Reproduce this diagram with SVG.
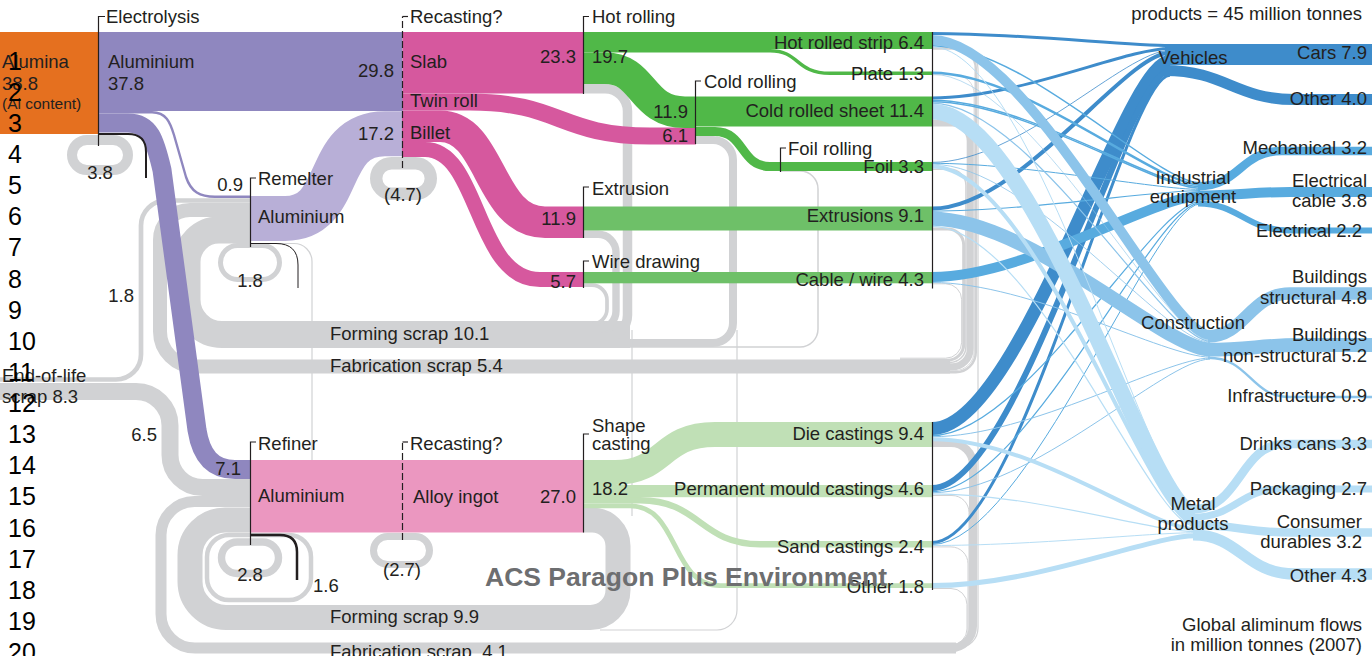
<svg xmlns="http://www.w3.org/2000/svg" width="1372" height="656" viewBox="0 0 1372 656">
<style>
.t{font-family:"Liberation Sans",Arial,sans-serif;font-size:18.5px;fill:#231f20}
.e{text-anchor:end}.m{text-anchor:middle}
.ln{font-family:"Liberation Sans",Arial,sans-serif;font-size:25px;fill:#000}
.g{fill:none;stroke:#d1d2d4}
.gl{fill:none;stroke:#d1d2d4;stroke-width:1.2}
.s{fill:none}
.V{fill:none;stroke:#3e8ccb}.I{fill:none;stroke:#58abdf}.C{fill:none;stroke:#8cc4ea}.M{fill:none;stroke:#b7def5}
.p{fill:none;stroke:#231f20;stroke-width:1.2}
.d{stroke-dasharray:7 3}
.blk{fill:none;stroke:#231f20}
</style>
<rect width="1372" height="656" fill="#fff"/>

<g id="connectors">
<g id="scrap-flows">
<path class="g" stroke-width="27" d="M630 334.5 H222 A35 35 0 0 1 187 299.5 V262 A32 32 0 0 1 219 230 H251"/>
<path class="g" stroke-width="3.7" d="M583 285.2 H592 A15 15 0 0 1 607 300.2 V309 A15 15 0 0 1 592 324 H560"/>
<path class="g" stroke-width="7.4" d="M583 234.3 H598 A18 18 0 0 1 616 252.3 V311 A18 18 0 0 1 598 329 H560"/>
<path class="g" stroke-width="9.5" d="M583 88.75 H605 A22.5 22.5 0 0 1 627.5 111.25 V315 A22.5 22.5 0 0 1 605 337.5 H560"/>
<path class="g" stroke-width="8" d="M695.5 140 H713 A20 20 0 0 1 733 160 V323 A20 20 0 0 1 713 343 H560"/>
<path class="g" stroke-width="1.5" d="M780 171 H800 A18 18 0 0 1 818 189 V329 A18 18 0 0 1 800 347 H560"/>
<path class="gl" d="M632 330 V516"/>
<path class="gl" d="M737 330 V610 A20 20 0 0 1 717 630 H600"/>
<path class="g" stroke-width="14" d="M950 366.5 H195 A35 35 0 0 1 160 331.5 V240 A30 30 0 0 1 190 210 H251"/>
<path class="g" stroke-width="2.5" d="M932 48.25 H955.75 A20 20 0 0 1 975.75 68.25 V352.25 A20 20 0 0 1 955.75 372.25 H900"/>
<path class="g" stroke-width="0.8" d="M932 74.8 H955 A19.1 19.1 0 0 1 974.1 93.9 V351.5 A19.1 19.1 0 0 1 955 370.6 H900"/>
<path class="g" stroke-width="7" d="M932 123 H952.2 A18 18 0 0 1 970.2 141 V348.7 A18 18 0 0 1 952.2 366.7 H900"/>
<path class="g" stroke-width="1.5" d="M932 169.35 H949.95 A16 16 0 0 1 965.95 185.35 V346.45 A16 16 0 0 1 949.95 362.45 H900"/>
<path class="g" stroke-width="3" d="M932 228.9 H947.7 A16 16 0 0 1 963.7 244.9 V344.2 A16 16 0 0 1 947.7 360.2 H900"/>
<path class="g" stroke-width="1" d="M932 283.8 H945.7 A16 16 0 0 1 961.7 299.8 V342.2 A16 16 0 0 1 945.7 358.2 H900"/>
<path class="gl" d="M932 49 H958 A20 20 0 0 1 978 69 V628 A20 20 0 0 1 958 648 H900"/>
<path class="g" stroke-width="11" d="M956 648 H195 A34 34 0 0 1 161 614 V535 A33.5 33.5 0 0 1 194.5 501.5 H251"/>
<path class="g" stroke-width="8" d="M932 443 H951 A22 22 0 0 1 973 465 V626 A22 22 0 0 1 951 648 H900"/>
<path class="g" stroke-width="1" d="M932 495.5 H952 A17 17 0 0 1 969 512.5 V630 A17 17 0 0 1 952 647 H900"/>
<path class="g" stroke-width="1" d="M932 546.9 H951 A17 17 0 0 1 968 563.9 V630 A17 17 0 0 1 951 647 H900"/>
<path class="g" stroke-width="1" d="M932 588.5 H951 A16 16 0 0 1 967 604.5 V629 A16 16 0 0 1 951 645 H900"/>
<path class="g" stroke-width="25" d="M583 520 H592 A26 26 0 0 1 618 546 V590 A27.5 27.5 0 0 1 590.5 617.5 H226 A36 36 0 0 1 190 581.5 V555 A35 35 0 0 1 225 520 H251"/>
<path class="g" stroke-width="4.7" d="M0 379.5 H116 A25 25 0 0 0 141 354.5 V225.5 A25 25 0 0 1 166 200.5 H251"/>
<path class="g" stroke-width="17" d="M0 391.5 H136 A34 34 0 0 1 170 425.5 V455 A32.5 32.5 0 0 0 202.5 487.5 H251"/>
<path class="gl" d="M276 243.5 H294 A18 18 0 0 1 312 261.5 V461"/>
<rect class="g" stroke-width="10" x="72" y="140" width="56" height="30" rx="15"/>
<rect class="g" stroke-width="5" x="220.5" y="245.5" width="59" height="34" rx="17"/>
<rect class="g" stroke-width="12.4" x="376.2" y="163.2" width="54.6" height="30.6" rx="15.3"/>
<rect class="g" stroke-width="4.5" x="207" y="535" width="104" height="65" rx="22"/>
<rect class="g" stroke-width="7.4" x="221.5" y="542" width="57" height="31.5" rx="15.7"/>
<rect class="g" stroke-width="7" x="373.5" y="536.5" width="56" height="28" rx="14"/>
</g>

<g id="primary-flows">
<path class="s" stroke="#8f87bf" stroke-width="19" d="M98 123 H128 C150 123 155 140 162 170 L197 430 C201 455 212 469.5 235 469.5 H251"/>
<path class="s" stroke="#8f87bf" stroke-width="2.4" d="M98 112.3 H152 C166 112.3 170 122 174 135 L186 177 C191 192 200 196.8 215 196.8 H251"/>
<path class="s" stroke="#b8afd7" stroke-width="45" d="M250 218.5 H285 C345 218.5 322 133.75 385 133.75 H402.5"/>
<path class="s" stroke="#d6589e" stroke-width="17" d="M402 102 H470 C560 102 560 136 650 136 H696"/>
<path class="s" stroke="#d6589e" stroke-width="31.5" d="M402 126.25 H440 C492 126.25 488 222.25 545 222.25 H583.5"/>
<path class="s" stroke="#d6589e" stroke-width="15" d="M402 149.5 H425 C480 149.5 475 279.5 540 279.5 H583.5"/>
<path class="s" stroke="#50b848" stroke-width="31.6" d="M583 68.2 H605 C645 68.2 640 112.25 685 112.25 H696"/>
<path class="s" stroke="#50b848" stroke-width="3.4" d="M583 50.7 H770 C800 50.7 795 73.25 830 73.25 H932.5"/>
<path class="s" stroke="#50b848" stroke-width="9" d="M695.5 131.5 H715 C745 131.5 740 166.5 770 166.5 H932.5"/>
<path class="s" stroke="#c0e0b6" stroke-width="24.9" d="M583 472.45 H615 C665 472.45 660 434.5 715 434.5 H932.5"/>
<path class="s" stroke="#c0e0b6" stroke-width="6.4" d="M583 500.25 H640 C700 500.25 700 544.2 760 544.2 H932.5"/>
<path class="s" stroke="#c0e0b6" stroke-width="4.8" d="M583 505.8 H630 C680 505.8 670 585.6 720 585.6 H932.5"/>
</g>

<g id="product-flows">
<path class="V" stroke-width="3" d="M932 33.5 C1020 33.5 1125 45.5 1170 45.5"/>
<path class="V" stroke-width="3" d="M932 98 C1020 98 1125 48.5 1170 48.5"/>
<path class="V" stroke-width="0.8" d="M932 162.4 C1020 162.4 1125 50.4 1170 50.4"/>
<path class="V" stroke-width="4" d="M932 208.5 C1020 208.5 1125 52.8 1170 52.8"/>
<path class="V" stroke-width="13" d="M932 428.5 C1020 428.5 1125 61.3 1170 61.3"/>
<path class="V" stroke-width="6" d="M932 488 C1020 488 1125 70.8 1170 70.8"/>
<path class="V" stroke-width="3" d="M932 542.5 C1020 542.5 1125 75.3 1170 75.3"/>
<path class="V" stroke-width="21" d="M1165 54.5 H1372"/>
<path class="V" stroke-width="11" d="M1165 70.5 C1225 70.5 1235 99.5 1295 99.5 H1372"/>

<path class="I" stroke-width="1.5" d="M932 45.75 C1025 45.75 1155 182.75 1200 182.75"/>
<path class="I" stroke-width="2.4" d="M932 72.7 C1025 72.7 1155 184.7 1200 184.7"/>
<path class="I" stroke-width="1.5" d="M932 100.25 C1025 100.25 1155 186.65 1200 186.65"/>
<path class="I" stroke-width="1.5" d="M932 101.75 C1025 101.75 1155 188.15 1200 188.15"/>
<path class="I" stroke-width="1" d="M932 163.3 C1025 163.3 1155 189.4 1200 189.4"/>
<path class="I" stroke-width="1.2" d="M932 211.1 C1025 211.1 1155 190.5 1200 190.5"/>
<path class="I" stroke-width="10" d="M932 277 C1025 277 1155 196.1 1200 196.1"/>
<path class="I" stroke-width="1.2" d="M932 435.6 C1025 435.6 1155 201.7 1200 201.7"/>
<path class="I" stroke-width="1.2" d="M932 491.6 C1025 491.6 1155 202.9 1200 202.9"/>
<path class="I" stroke-width="1" d="M932 544.5 C1025 544.5 1155 204 1200 204"/>
<path class="I" stroke-width="8.5" d="M1198 186.25 C1240 186.25 1240 151 1282 151 H1372"/>
<path class="I" stroke-width="10" d="M1198 195.5 C1240 195.5 1250 192 1290 192 H1372"/>
<path class="I" stroke-width="6" d="M1198 203.5 C1240 203.5 1245 230.5 1290 230.5 H1372"/>

<path class="C" stroke-width="10" d="M932 40 C1030 40 1165 335 1210 335"/>
<path class="C" stroke-width="0.6" d="M932 74.2 C1030 74.2 1165 340.3 1210 340.3"/>
<path class="C" stroke-width="1.2" d="M932 103.1 C1030 103.1 1165 341.2 1210 341.2"/>
<path class="C" stroke-width="0.8" d="M932 164.2 C1030 164.2 1165 342.2 1210 342.2"/>
<path class="C" stroke-width="14" d="M932 218.7 C1030 218.7 1165 349.6 1210 349.6"/>
<path class="C" stroke-width="1" d="M932 282.5 C1030 282.5 1165 357.1 1210 357.1"/>
<path class="C" stroke-width="1" d="M932 436.7 C1030 436.7 1165 358.1 1210 358.1"/>
<path class="C" stroke-width="1" d="M932 492.7 C1030 492.7 1165 359.1 1210 359.1"/>
<path class="C" stroke-width="12.7" d="M1208 336.35 C1245 336.35 1250 293.5 1290 293.5 H1372"/>
<path class="C" stroke-width="13.8" d="M1208 349.6 C1250 349.6 1260 345 1300 345 H1372"/>
<path class="C" stroke-width="2.4" d="M1208 357.7 C1250 357.7 1250 397 1290 397 H1372"/>

<path class="M" stroke-width="1" d="M932 47 C1035 47 1150 505.5 1195 505.5"/>
<path class="M" stroke-width="15.8" d="M932 111.6 C1035 111.6 1150 513.9 1195 513.9"/>
<path class="M" stroke-width="4" d="M932 166.6 C1035 166.6 1150 523.8 1195 523.8"/>
<path class="M" stroke-width="1.2" d="M932 226.3 C1035 226.3 1150 526.4 1195 526.4"/>
<path class="M" stroke-width="4" d="M932 439.2 C1035 439.2 1150 529 1195 529"/>
<path class="M" stroke-width="1.2" d="M932 493.8 C1035 493.8 1150 531.6 1195 531.6"/>
<path class="M" stroke-width="1" d="M932 545.5 C1035 545.5 1150 532.7 1195 532.7"/>
<path class="M" stroke-width="5" d="M932 585.6 C1035 585.6 1150 535.7 1195 535.7"/>
<path class="M" stroke-width="8.7" d="M1193 509.35 C1240 509.35 1240 444 1285 444 H1372"/>
<path class="M" stroke-width="7.1" d="M1193 517.25 C1235 517.25 1240 489 1280 489 H1372"/>
<path class="M" stroke-width="8.4" d="M1193 525 C1240 525 1245 532.5 1290 532.5 H1372"/>
<path class="M" stroke-width="11.3" d="M1193 534.85 C1240 534.85 1245 574 1295 574 H1372"/>
</g>
</g>

<g id="node-alumina">
<rect x="0" y="32" width="98.5" height="102" fill="#e5701f"/>
<text class="t" x="2" y="68">Alumina</text>
<text class="t" x="2" y="90">38.8</text>
<text class="t" x="2" y="109" style="font-size:15.5px">(Al content)</text>
</g>

<g id="node-electrolysis">
<rect x="98.5" y="32" width="304" height="79" fill="#8f87bf"/>
<path class="blk" stroke-width="2" d="M98.5 134 H128 Q146 134 146 152 V178"/>
<path class="p" d="M98.5 146 V16.5 H105"/>
<text class="t" x="106" y="23">Electrolysis</text>
<text class="t" x="108" y="68">Aluminium</text>
<text class="t" x="108" y="90">37.8</text>
<text class="t e" x="394" y="77">29.8</text>
<text class="t m" x="100" y="179">3.8</text>
</g>

<g id="node-remelter">
<path class="blk" stroke-width="1" d="M250 243.5 H276 Q298 243.5 298 265 V288"/>
<path class="p" d="M250.5 247 V178 H256"/>
<text class="t" x="258" y="185">Remelter</text>
<text class="t" x="258" y="223">Aluminium</text>
<text class="t e" x="243" y="191">0.9</text>
<text class="t m" x="250" y="287">1.8</text>
</g>

<g id="node-recasting-upper">
<rect x="402.5" y="32" width="181" height="61.5" fill="#d6589e"/>
<path class="p d" d="M402.5 168 V16.5"/>
<path class="p" d="M402.5 16.5 H408"/>
<text class="t" x="410" y="23">Recasting?</text>
<text class="t" x="410" y="68">Slab</text>
<text class="t" x="410" y="107">Twin roll</text>
<text class="t" x="410" y="139">Billet</text>
<text class="t e" x="394" y="140">17.2</text>
<text class="t m" x="403" y="201">(4.7)</text>
</g>

<g id="node-hot-rolling">
<rect x="583.5" y="32" width="349" height="17" fill="#50b848"/>
<path class="p" d="M583.5 94 V16.5 H589"/>
<text class="t" x="592" y="23">Hot rolling</text>
<text class="t e" x="576" y="63">23.3</text>
<text class="t" x="592" y="63">19.7</text>
</g>

<g id="node-cold-rolling">
<rect x="695.5" y="96.5" width="237" height="30" fill="#50b848"/>
<path class="p" d="M695.5 144 V81 H701"/>
<text class="t" x="704" y="88">Cold rolling</text>
<text class="t e" x="688" y="118">11.9</text>
<text class="t e" x="688" y="142">6.1</text>
</g>

<g id="node-foil-rolling">
<path class="p" d="M780.5 172 V148 H786"/>
<text class="t" x="788" y="155">Foil rolling</text>
</g>

<g id="node-extrusion">
<rect x="583.5" y="206.5" width="349" height="24" fill="#6ec068"/>
<path class="p" d="M583.5 238 V187 H589"/>
<text class="t" x="592" y="195">Extrusion</text>
<text class="t e" x="576" y="225">11.9</text>
</g>

<g id="node-wire-drawing">
<rect x="583.5" y="272" width="349" height="11.3" fill="#6ec068"/>
<path class="p" d="M583.5 288 V261 H589"/>
<text class="t" x="592" y="268">Wire drawing</text>
<text class="t e" x="576" y="288">5.7</text>
</g>

<g id="node-refiner">
<rect x="250.5" y="460" width="333" height="72.5" fill="#eb97c0"/>
<path class="blk" stroke-width="2.5" d="M250 535 H280 Q297 535 297 552 V580"/>
<path class="p" d="M250.5 545 V442 H256"/>
<text class="t" x="258" y="450">Refiner</text>
<text class="t e" x="241" y="475">7.1</text>
<text class="t" x="258" y="502">Aluminium</text>
<text class="t m" x="250" y="581">2.8</text>
<text class="t" x="313" y="592">1.6</text>
</g>

<g id="node-recasting-lower">
<path class="p d" d="M402.5 540 V442"/>
<path class="p" d="M402.5 442 H408"/>
<text class="t" x="410" y="450">Recasting?</text>
<text class="t" x="413" y="503">Alloy ingot</text>
<text class="t e" x="576" y="503">27.0</text>
<text class="t m" x="402" y="576">(2.7)</text>
</g>

<g id="node-shape-casting">
<rect x="583.5" y="485" width="349" height="12.2" fill="#c0e0b6"/>
<path class="p" d="M583.5 532.5 V434 H589"/>
<text class="t" x="592" y="432">Shape</text>
<text class="t" x="592" y="450">casting</text>
<text class="t" x="592" y="495">18.2</text>
</g>

<g id="node-products">
<path class="p" d="M932.5 32 V288.5 M932.5 422 V590"/>
<text class="t e" x="924" y="49">Hot rolled strip 6.4</text>
<text class="t e" x="924" y="80">Plate 1.3</text>
<text class="t e" x="924" y="117">Cold rolled sheet 11.4</text>
<text class="t e" x="924" y="173">Foil 3.3</text>
<text class="t e" x="924" y="222">Extrusions 9.1</text>
<text class="t e" x="924" y="286">Cable / wire 4.3</text>
<text class="t e" x="924" y="440">Die castings 9.4</text>
<text class="t e" x="924" y="495">Permanent mould castings 4.6</text>
<text class="t e" x="924" y="553">Sand castings 2.4</text>
<text class="t e" x="924" y="593">Other 1.8</text>
</g>

<g id="node-scrap">
<text class="t" x="330" y="340">Forming scrap 10.1</text>
<text class="t" x="330" y="372">Fabrication scrap 5.4</text>
<text class="t e" x="134" y="302">1.8</text>
<text class="t" x="2" y="382">End-of-life</text>
<text class="t" x="2" y="403">scrap 8.3</text>
<text class="t e" x="157" y="441">6.5</text>
<text class="t" x="330" y="623">Forming scrap 9.9</text>
<text class="t" x="330" y="658" style="white-space:pre">Fabrication scrap  4.1</text>
</g>

<g id="node-vehicles">
<text class="t m" x="1193" y="64">Vehicles</text>
<text class="t e" x="1367" y="59">Cars 7.9</text>
<text class="t e" x="1367" y="105">Other 4.0</text>
</g>
<g id="node-industrial">
<text class="t m" x="1193" y="184">Industrial</text>
<text class="t m" x="1193" y="203">equipment</text>
<text class="t e" x="1367" y="154">Mechanical 3.2</text>
<text class="t e" x="1367" y="187">Electrical</text>
<text class="t e" x="1367" y="207">cable 3.8</text>
<text class="t e" x="1362" y="237">Electrical 2.2</text>
</g>
<g id="node-construction">
<text class="t m" x="1193" y="329">Construction</text>
<text class="t e" x="1367" y="283">Buildings</text>
<text class="t e" x="1367" y="304">structural 4.8</text>
<text class="t e" x="1367" y="341">Buildings</text>
<text class="t e" x="1367" y="362">non-structural 5.2</text>
<text class="t e" x="1367" y="402">Infrastructure 0.9</text>
</g>
<g id="node-metal-products">
<text class="t m" x="1193" y="510">Metal</text>
<text class="t m" x="1193" y="530">products</text>
<text class="t e" x="1367" y="450">Drinks cans 3.3</text>
<text class="t e" x="1367" y="495">Packaging 2.7</text>
<text class="t e" x="1362" y="528">Consumer</text>
<text class="t e" x="1362" y="548">durables 3.2</text>
<text class="t e" x="1367" y="582">Other 4.3</text>
</g>

<g id="captions">
<text class="t e" x="1362" y="20">products = 45 million tonnes</text>
<text class="t e" x="1362" y="631">Global aliminum flows</text>
<text class="t e" x="1362" y="651">in million tonnes (2007)</text>
<text x="485" y="586" style="font-family:'Liberation Sans',Arial,sans-serif;font-size:26.5px;font-weight:bold;fill:#6d6e70">ACS Paragon Plus Environment</text>
</g>

<g id="line-numbers" class="ln">
<text x="8" y="69.6">1</text><text x="8" y="100.7">2</text><text x="8" y="131.9">3</text><text x="8" y="163">4</text>
<text x="8" y="194.1">5</text><text x="8" y="225.3">6</text><text x="8" y="256.4">7</text><text x="8" y="287.5">8</text>
<text x="8" y="318.6">9</text><text x="8" y="349.8">10</text><text x="8" y="380.9">11</text><text x="8" y="412">12</text>
<text x="8" y="443.2">13</text><text x="8" y="474.3">14</text><text x="8" y="505.4">15</text><text x="8" y="536.6">16</text>
<text x="8" y="567.7">17</text><text x="8" y="598.8">18</text><text x="8" y="630">19</text><text x="8" y="661.1">20</text>
</g>
</svg>
